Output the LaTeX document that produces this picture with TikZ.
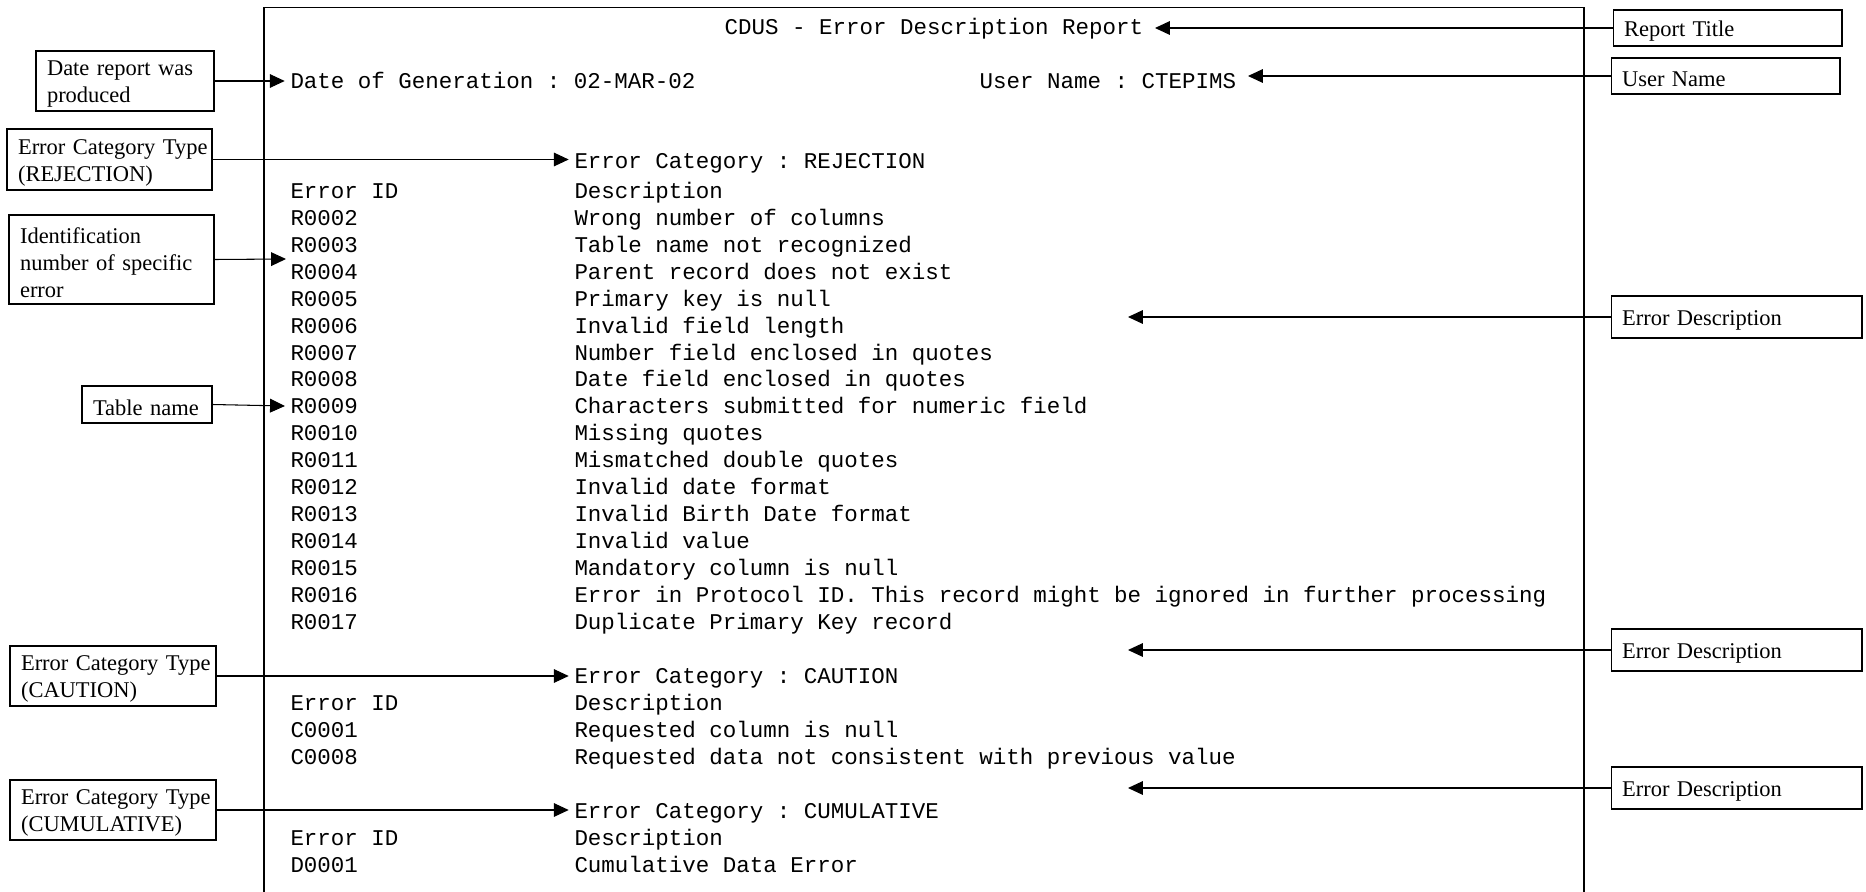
\documentclass[tikz,border=0pt]{standalone}
\usepackage{fontspec}
\setmainfont{Liberation Serif}
\newfontfamily\reportfont{Liberation Mono}
\usepackage{tikz}
\usetikzlibrary{arrows.meta}
\tikzset{>={Triangle[length=8.5pt, width=7.8pt]}}

\begin{document}
\begin{tikzpicture}[
        x=0.02cm, y=-0.02cm,
        line width=0.6pt,
        note/.style={draw, align=left, inner xsep=0.22cm, inner ysep=0pt, font=\fontsize{12.8pt}{15.31pt}\selectfont, execute at begin node=\rule{0pt}{12.2pt}},
        rpt/.style={anchor=base west, align=left, inner xsep=3pt, inner ysep=0pt, font=\reportfont\fontsize{12.8pt}{15.31pt}\selectfont\frenchspacing}
    ]
    \useasboundingbox (0, 0) rectangle (1866, 892);
    % report frame, open at the bottom
    \draw (264, 892) -- (264, 7.5) -- (1584, 7.5) -- (1584, 892);
    % report header
    \node[rpt, anchor=base east, inner xsep=6.5pt] (title) at (1155, 35) {CDUS - Error Description Report};
    \node[rpt] (gendate) at (284.7, 89) {Date of Generation : 02-MAR-02};
    \node[rpt, anchor=base east, inner xsep=6.5pt] (username) at (1248, 89) {User Name : CTEPIMS};
    % rejection block (multi-line nodes sit on their last line)
    \node[rpt] (rejcat) at (568.7, 169) {Error Category : REJECTION};
    \node[rpt] (rejids) at (284.7, 629) {Error ID\\R0002\\R0003\\R0004\\R0005\\R0006\\R0007\\R0008\\R0009\\R0010\\R0011\\R0012\\R0013\\R0014\\R0015\\R0016\\R0017};
    \node[rpt] (rejdesc) at (568.7, 629) {Description\\Wrong number of columns\\Table name not recognized\\Parent record does not exist\\Primary key is null\\Invalid field length\\Number field enclosed in quotes\\Date field enclosed in quotes\\Characters submitted for numeric field\\Missing quotes\\Mismatched double quotes\\Invalid date format\\Invalid Birth Date format\\Invalid value\\Mandatory column is null\\Error in Protocol ID. This record might be ignored in further processing\\Duplicate Primary Key record};
    % caution block
    \node[rpt] (cautcat) at (568.7, 683) {Error Category : CAUTION};
    \node[rpt] (cautids) at (284.7, 764) {Error ID\\C0001\\C0008};
    \node[rpt] (cautdesc) at (568.7, 764) {Description\\Requested column is null\\Requested data not consistent with previous value};
    % cumulative block
    \node[rpt] (cumucat) at (568.7, 818) {Error Category : CUMULATIVE};
    \node[rpt] (cumuids) at (284.7, 872) {Error ID\\D0001};
    \node[rpt] (cumudesc) at (568.7, 872) {Description\\Cumulative Data Error};
    % notes on the left
    \node[note, text width=3.12cm, minimum height=1.2cm] (datebox) at (125, 81) {Date report was\\produced};
    \node[note, text width=3.66cm, minimum height=1.22cm] (rejbox) at (109.5, 159.5) {\mbox{Error Category Type}\\(REJECTION)};
    \node[note, text width=3.66cm, minimum height=1.78cm] (identbox) at (111.5, 259.5) {Identification\\\mbox{number of specific}\\error};
    \node[note, text width=2.16cm, minimum height=0.74cm] (tablebox) at (147, 404.5) {Table name};
    \node[note, text width=3.68cm, minimum height=1.2cm] (cautbox) at (113, 676) {\mbox{Error Category Type}\\(CAUTION)};
    \node[note, text width=3.68cm, minimum height=1.2cm] (cumubox) at (113, 810) {\mbox{Error Category Type}\\(CUMULATIVE)};
    % notes on the right
    \node[note, text width=4.14cm, minimum height=0.72cm] (titlebox) at (1727.5, 28) {Report Title};
    \node[note, text width=4.14cm, minimum height=0.72cm] (userbox) at (1725.5, 76) {User Name};
    \node[note, text width=4.58cm, minimum height=0.84cm] (descboxa) at (1736.5, 317) {Error Description};
    \node[note, text width=4.58cm, minimum height=0.84cm] (descboxb) at (1736.5, 650) {Error Description};
    \node[note, text width=4.58cm, minimum height=0.84cm] (descboxc) at (1736.5, 788) {Error Description};
    % free arrow ends
    \coordinate (identtip) at (286, 259);
    \coordinate (tabletip) at (285, 406);
    \coordinate (desctipa) at (1128, 317);
    \coordinate (desctipb) at (1128, 650);
    \coordinate (desctipc) at (1128, 788);
    % paths
    \path[->] (datebox.east) edge (datebox.east -| gendate.west);
    \path[->] (rejbox.east) edge (rejbox.east -| rejcat.west);
    \path[->] (identbox.east) edge (identtip);
    \path[->] (tablebox.east) edge (tabletip);
    \path[->] (cautbox.east) edge (cautbox.east -| cautcat.west);
    \path[->] (cumubox.east) edge (cumubox.east -| cumucat.west);
    \path[->] (titlebox.west) edge (titlebox.west -| title.east);
    \path[->] (userbox.west) edge (userbox.west -| username.east);
    \path[->] (descboxa.west) edge (desctipa);
    \path[->] (descboxb.west) edge (desctipb);
    \path[->] (descboxc.west) edge (desctipc);
\end{tikzpicture}
\end{document}
